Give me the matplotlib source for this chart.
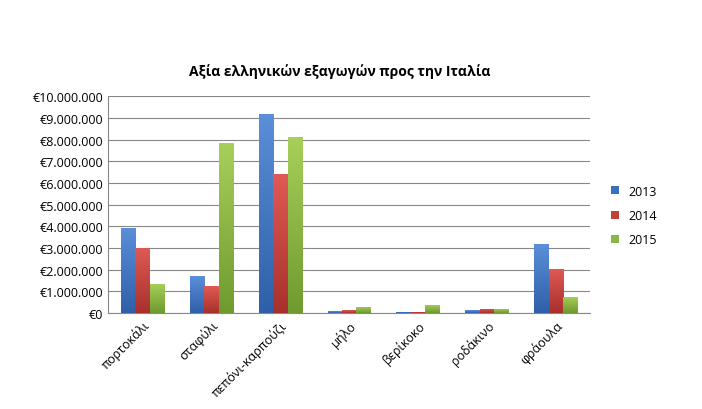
import matplotlib
matplotlib.use("Agg")
import matplotlib.pyplot as plt
import numpy as np
from matplotlib.colors import LinearSegmentedColormap
from matplotlib.ticker import FuncFormatter, MultipleLocator

plt.rcParams['font.family'] = ['Open Sans', 'DejaVu Sans']

categories = ["πορτοκάλι", "σταφύλι", "πεπόνι-καρπούζι", "μήλο", "βερίκοκο", "ροδάκινο", "φράουλα"]
years = ["2013", "2014", "2015"]
v2013 = [3920000, 1700000, 9200000, 80000, 50000, 120000, 3170000]
v2014 = [3000000, 1240000, 6400000, 120000, 70000, 200000, 2030000]
v2015 = [1340000, 7830000, 8100000, 280000, 380000, 200000, 740000]
series = [v2013, v2014, v2015]
colors = [("#5b8fd9", "#2f5fa8"), ("#e05a55", "#a8302c"), ("#a8cf5a", "#6f9a2f")]
legend_colors = ["#3a6fc0", "#c0403a", "#8ab846"]

fig = plt.figure(figsize=(7.02, 4.10), dpi=100)
ax = fig.add_axes([0.154, 0.234, 0.687, 0.529])

x = np.arange(len(categories))
w = 0.21
grad = np.linspace(1, 0, 256).reshape(-1, 1)
for i, (vals, (c1, c2)) in enumerate(zip(series, colors)):
    bars = ax.bar(x + (i - 1) * w, vals, w, color=legend_colors[i], label=years[i], zorder=2)
    cmap = LinearSegmentedColormap.from_list("g", [c2, c1])
    for b in bars:
        im = ax.imshow(grad, cmap=cmap, aspect='auto', zorder=3,
                       extent=[b.get_x(), b.get_x() + b.get_width(), 0, b.get_height()])
        im.set_clip_path(b)

ax.set_xlim(-0.5, len(categories) - 0.5)
ax.set_ylim(0, 10000000)
ax.yaxis.set_major_locator(MultipleLocator(1000000))
ax.yaxis.set_major_formatter(FuncFormatter(lambda v, p: "€" + f"{int(v):,}".replace(",", ".")))
ax.grid(axis='y', color='#888888', linewidth=0.8, zorder=0)
ax.set_axisbelow(True)
for s in ['top', 'right']:
    ax.spines[s].set_visible(False)
ax.spines['left'].set_color('#888888')
ax.spines['bottom'].set_color('#888888')
ax.tick_params(axis='y', length=0, labelsize=9)
ax.tick_params(axis='x', length=0, labelsize=9)
ax.set_xticks(x)
ax.set_xticklabels(categories, rotation=45, ha='right', rotation_mode='anchor')

fig.text(0.484, 0.825, "Αξία ελληνικών εξαγωγών προς την Ιταλία", ha='center', va='center',
         fontsize=10, fontweight='bold')
ax.legend(loc='center left', bbox_to_anchor=(1.02, 0.45), frameon=False, fontsize=9,
          handlelength=0.6, handleheight=0.6, labelspacing=0.9)
fig.savefig("out.png", dpi=100)
